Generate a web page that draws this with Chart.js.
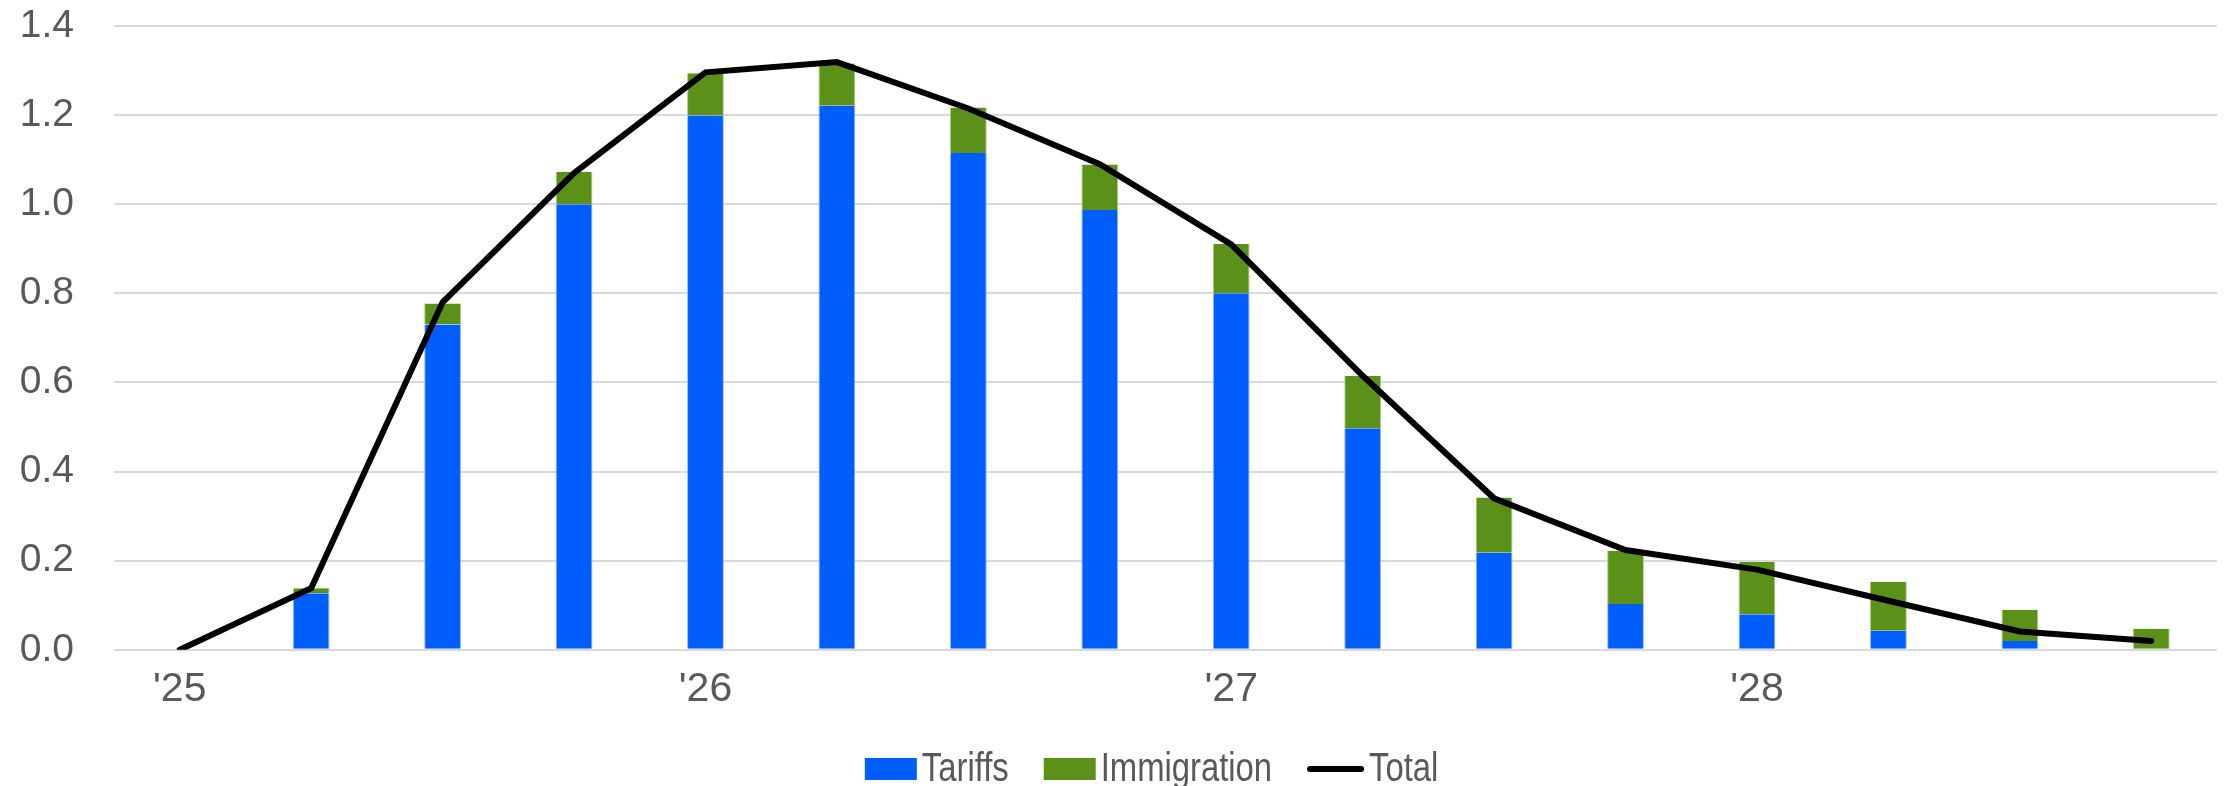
<!DOCTYPE html>
<html>
<head>
<meta charset="utf-8">
<script src="https://cdn.jsdelivr.net/npm/chart.js@4"></script>
<style>
  html, body { margin: 0; padding: 0; background: #ffffff; }
  #wrap { width: 2224px; height: 786px; position: relative; }
</style>
</head>
<body>
<div id="wrap"><canvas id="c"></canvas></div>
<script>
const quarters = ["Q1 '25","Q2 '25","Q3 '25","Q4 '25","Q1 '26","Q2 '26","Q3 '26","Q4 '26",
                  "Q1 '27","Q2 '27","Q3 '27","Q4 '27","Q1 '28","Q2 '28","Q3 '28","Q4 '28"];
const tickLabels = ["'25","","","","'26","","","","'27","","","","'28","","",""];
const tariffs = [0.000, 0.127, 0.730, 1.000, 1.199, 1.221, 1.115, 0.987, 0.800, 0.497, 0.218, 0.103, 0.080, 0.043, 0.020, 0.000];
const immigration = [0.000, 0.011, 0.047, 0.073, 0.095, 0.095, 0.102, 0.102, 0.111, 0.118, 0.124, 0.119, 0.117, 0.110, 0.070, 0.047];
const total = [0.000, 0.138, 0.780, 1.070, 1.296, 1.319, 1.215, 1.090, 0.910, 0.615, 0.340, 0.224, 0.180, 0.110, 0.041, 0.020];
const yTicks = [0, 0.2, 0.4, 0.6, 0.8, 1.0, 1.2, 1.4];

const BLUE = '#005EFF', GREEN = '#5C9119', TEXT = '#595959', GRID = '#D9D9D9';

// Custom bottom legend drawn on the chart canvas (boxes + narrow text)
const bottomLegend = {
  id: 'bottomLegend',
  afterDraw(chart) {
    const ctx = chart.ctx;
    const sx = 0.82;               // horizontal condensing (narrow face)
    const fontPx = 40;
    ctx.save();
    ctx.font = fontPx + "px 'Liberation Sans', Arial, sans-serif";
    const items = chart.data.datasets.map(ds => ({
      text: ds.label, isLine: ds.type === 'line',
      color: ds.type === 'line' ? ds.borderColor : ds.backgroundColor,
      symW: ds.type === 'line' ? 57 : 52,
      textW: ctx.measureText(ds.label).width * sx
    }));
    const gapSym = 5, gapItem = 35;
    let totalW = 0;
    items.forEach((it, i) => { totalW += it.symW + gapSym + it.textW + (i < items.length - 1 ? gapItem : 0); });
    const centerX = chart.width * 0.5178;
    const baseY = chart.height - 5;
    const midY = baseY - 12;
    let x = centerX - totalW / 2;
    items.forEach(it => {
      if (it.isLine) {
        ctx.strokeStyle = it.color; ctx.lineWidth = 6; ctx.lineCap = 'round';
        ctx.beginPath(); ctx.moveTo(x + 3, midY); ctx.lineTo(x + it.symW - 3, midY); ctx.stroke();
      } else {
        ctx.fillStyle = it.color;
        ctx.fillRect(x, midY - 11, it.symW, 22);
      }
      x += it.symW + gapSym;
      ctx.save();
      ctx.translate(x, baseY);
      ctx.scale(sx, 1);
      ctx.fillStyle = TEXT;
      ctx.textAlign = 'left';
      ctx.textBaseline = 'alphabetic';
      ctx.fillText(it.text, 0, 0);
      ctx.restore();
      x += it.textW + gapItem;
    });
    ctx.restore();
  }
};

new Chart(document.getElementById('c'), {
  data: {
    labels: quarters,
    datasets: [
      { type: 'bar', label: 'Tariffs', data: tariffs, backgroundColor: BLUE,
        borderColor: 'rgba(140,175,255,0.9)', borderWidth: { left: 1, right: 1, top: 0, bottom: 0 },
        stack: 's', order: 1, categoryPercentage: 1, barPercentage: 0.28 },
      { type: 'bar', label: 'Immigration', data: immigration, backgroundColor: GREEN,
        borderColor: 'rgba(160,200,110,0.9)', borderWidth: { left: 1, right: 1, top: 0, bottom: 0 },
        stack: 's', order: 2, categoryPercentage: 1, barPercentage: 0.28 },
      { type: 'line', label: 'Total', data: total, borderColor: '#000000', backgroundColor: '#000000',
        borderWidth: 6, pointRadius: 0, tension: 0, fill: false, stack: 'line', order: 0,
        borderCapStyle: 'round', borderJoinStyle: 'miter' }
    ]
  },
  plugins: [bottomLegend],
  options: {
    responsive: true,
    maintainAspectRatio: false,
    animation: false,
    devicePixelRatio: 1,
    layout: { padding: { left: 0, right: 7, top: 0, bottom: 57 } },
    plugins: {
      tooltip: { enabled: false },
      legend: { display: false }
    },
    scales: {
      x: {
        stacked: true,
        grid: { display: false, drawTicks: false },
        border: { display: false },
        ticks: {
          autoSkip: false, maxRotation: 0, padding: 15, color: TEXT,
          font: { family: "'Liberation Sans', Arial, sans-serif", size: 41 },
          callback: (v, i) => tickLabels[i]
        }
      },
      y: {
        stacked: true,
        min: 0, max: 1.4,
        afterBuildTicks: (axis) => { axis.ticks = yTicks.map(v => ({ value: v })); },
        afterFit: (axis) => { axis.width = 114; axis.paddingTop = 26; axis.paddingBottom = 0; },
        grid: { color: GRID, lineWidth: 2, drawTicks: false },
        border: { display: false },
        ticks: {
          padding: 40, color: TEXT,
          font: { family: "'Liberation Sans', Arial, sans-serif", size: 39 },
          callback: (v) => Number(v).toFixed(1)
        }
      }
    }
  }
});
</script>
</body>
</html>
